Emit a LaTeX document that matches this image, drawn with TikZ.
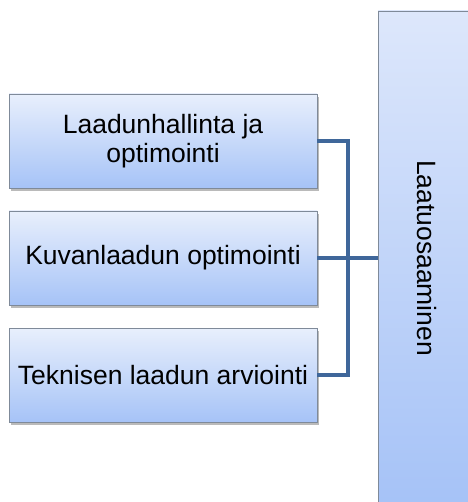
\documentclass[tikz,border=0pt]{standalone}
\usepackage{fontspec}
\setmainfont{Liberation Sans}
\usetikzlibrary{shadows}
\definecolor{boxtop}{HTML}{E8EFFC}
\definecolor{boxbot}{HTML}{A6C3F7}
\definecolor{bigtop}{HTML}{DDE7FB}
\definecolor{bigbot}{HTML}{A5C2F7}
\definecolor{edge}{HTML}{7F8A99}
\definecolor{link}{HTML}{3F679A}
\begin{document}
\begin{tikzpicture}[x=1pt,y=-1pt,
  itembox/.style={draw=edge, line width=0.8pt, top color=boxtop, bottom color=boxbot,
    minimum width=308pt, minimum height=94pt, inner sep=0pt, align=center,
    font=\fontsize{26.5}{29}\selectfont,
    drop shadow={shadow xshift=2pt, shadow yshift=-3pt, opacity=0.45, fill=black!60}},
  bigbox/.style={draw=edge, line width=0.8pt, top color=bigtop, bottom color=bigbot},
  connector/.style={draw=link, line width=4pt, line cap=butt, line join=miter}]
\useasboundingbox (0,0) rectangle (467,502);
% main block on the right, running off the page
\path[bigbox] (378,11) rectangle (475,510);
\node[rotate=-90, font=\fontsize{26.5}{29}\selectfont] (main) at (427,258) {Laatuosaaminen};
\coordinate (mainin) at (378,258);
% the three items
\node[itembox] (a) at (163,141) {Laadunhallinta ja\\optimointi};
\node[itembox] (b) at (163,258) {Kuvanlaadun optimointi};
\node[itembox] (c) at (163,375) {Teknisen laadun arviointi};
% bracket joining the items to the main block
\coordinate (j1) at (348,141);
\coordinate (j3) at (348,375);
\coordinate (j2) at (348,258);
\draw[connector] (a.east) -- (j1) -- (j3) -- (c.east);
\draw[connector] (b.east) -- (j2) -- (mainin);
\end{tikzpicture}
\end{document}
